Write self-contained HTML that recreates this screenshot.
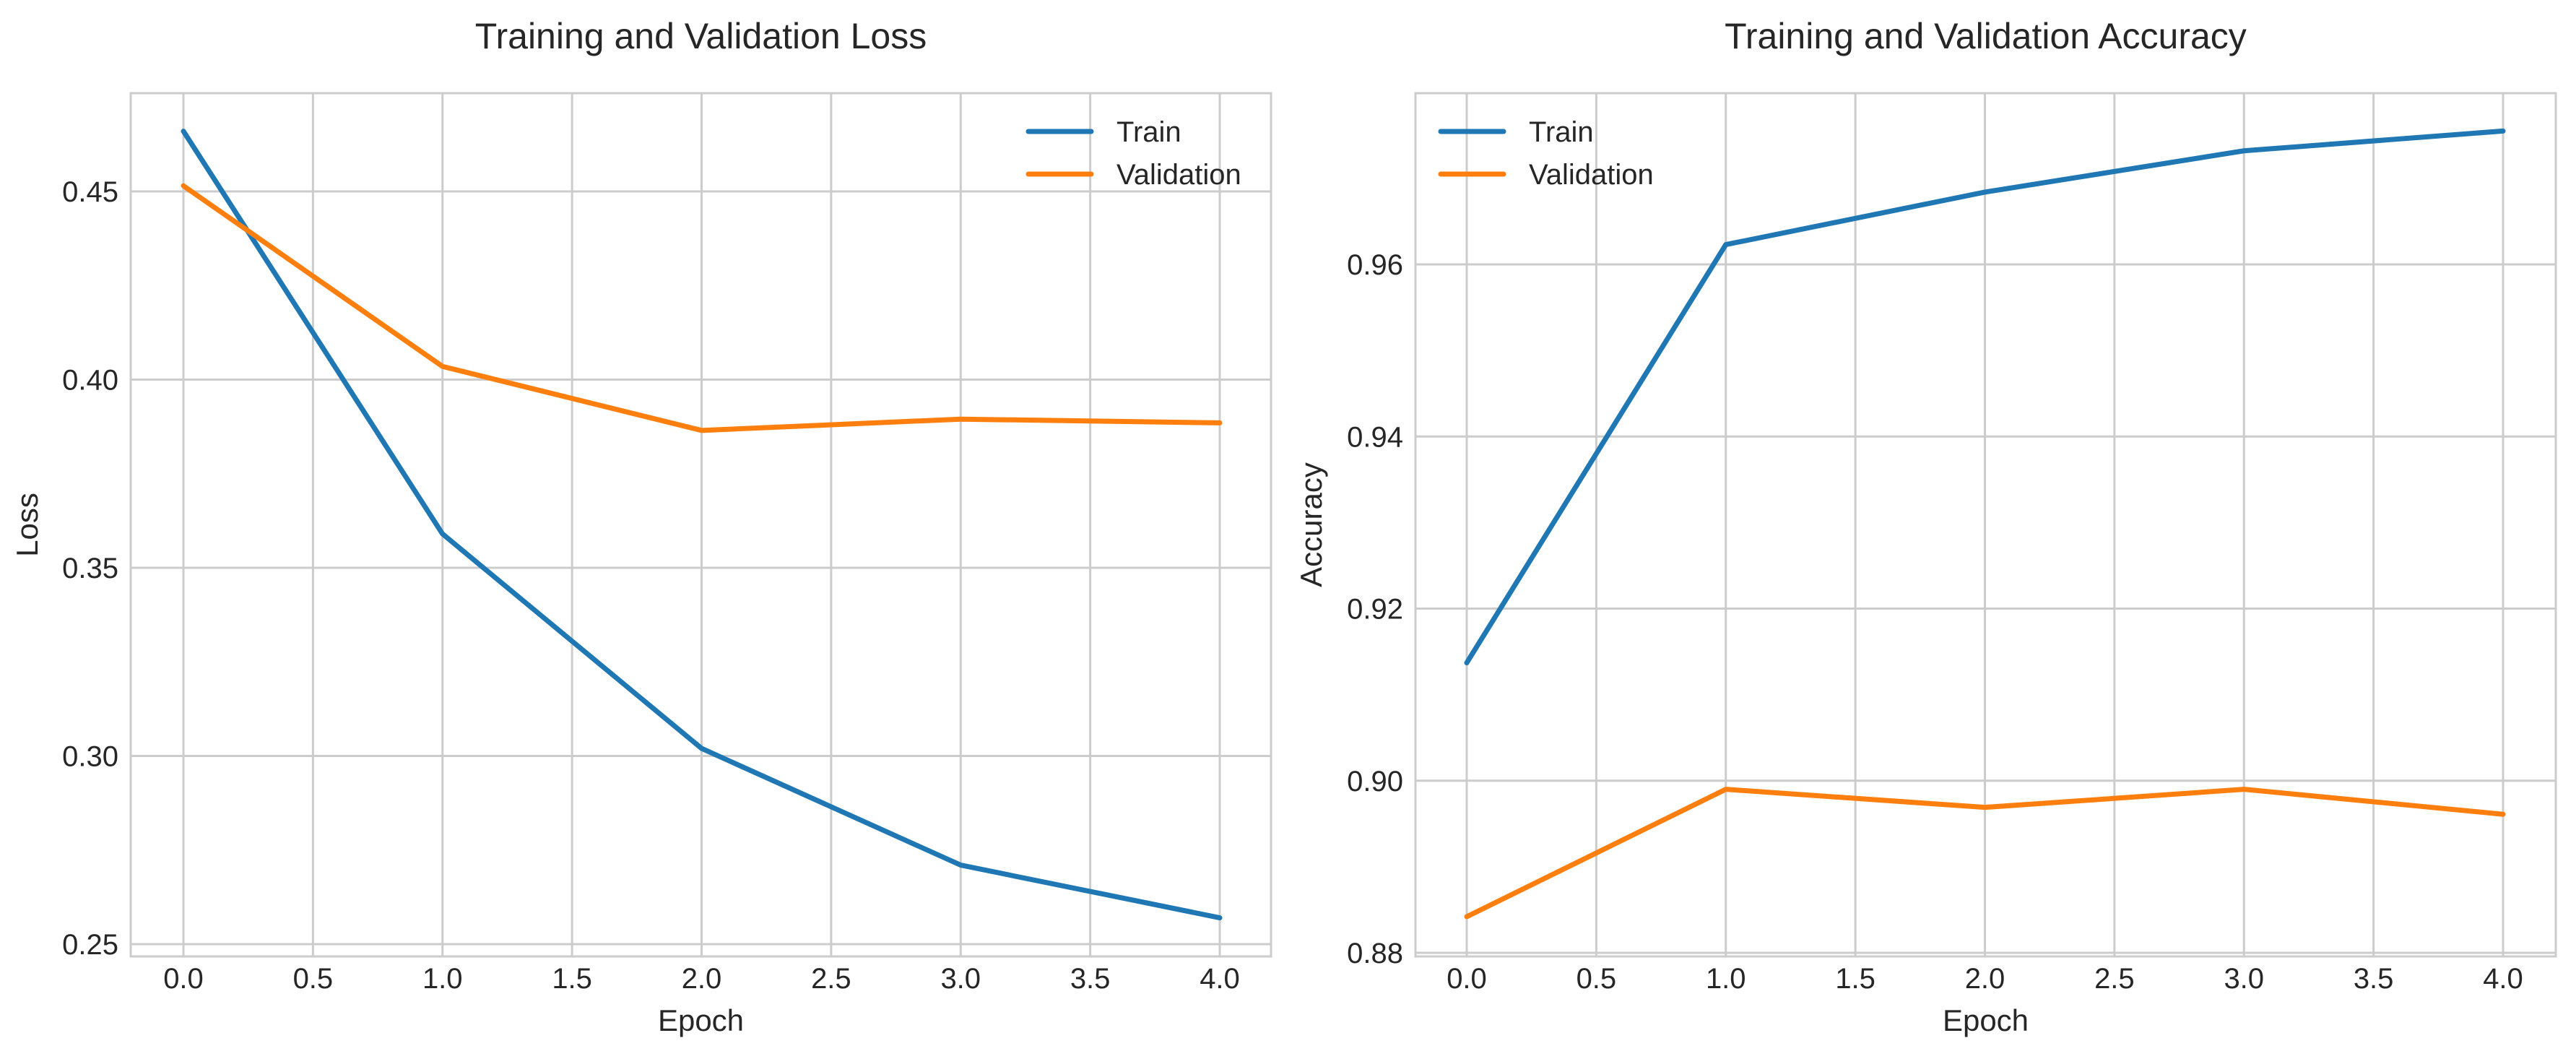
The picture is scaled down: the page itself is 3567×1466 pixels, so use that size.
<!DOCTYPE html>
<html><head><meta charset="utf-8"><style>
html,body{margin:0;padding:0;background:#fff;}
svg{display:block;font-family:"Liberation Sans",sans-serif;}
</style></head><body>
<svg id="chart" width="3567" height="1466" viewBox="0 0 3567 1466" xmlns="http://www.w3.org/2000/svg"></svg>
<script>
const epochs = [0, 1, 2, 3, 4];
const xTicks = [0, 0.5, 1, 1.5, 2, 2.5, 3, 3.5, 4];
const xTickLabels = ["0.0","0.5","1.0","1.5","2.0","2.5","3.0","3.5","4.0"];
const lossTrain = [0.466, 0.359, 0.302, 0.271, 0.257];
const lossVal = [0.4515, 0.4035, 0.3865, 0.3895, 0.3885];
const lossTicks = [0.25, 0.30, 0.35, 0.40, 0.45];
const lossTickLabels = ["0.25","0.30","0.35","0.40","0.45"];
const accTrain = [0.9137, 0.9623, 0.9684, 0.9732, 0.9755];
const accVal = [0.8842, 0.899, 0.8969, 0.899, 0.8961];
const accTicks = [0.88, 0.90, 0.92, 0.94, 0.96];
const accTickLabels = ["0.88","0.90","0.92","0.94","0.96"];

const svg = document.getElementById('chart');
const NS = 'http://www.w3.org/2000/svg';
function mk(tag, attrs, parent){const e=document.createElementNS(NS,tag);for(const k in attrs)e.setAttribute(k,attrs[k]);(parent||svg).appendChild(e);return e;}

function panel(opt){
  const g = mk('g',{});
  
  
  const L=opt.left,R=opt.right,T=129,B=1324;
  const x0=opt.x0, x1=opt.x0+1435;
  const xs = v => x0 + (v-0)/(4-0)*(x1-x0);
  const ys = v => opt.ypx0 + (v-opt.yv0)/(opt.yv1-opt.yv0)*(opt.ypx1-opt.ypx0);
  xTicks.forEach((t,i)=>{
    const l=mk('line',{x1:xs(t),x2:xs(t),y1:T,y2:B,stroke:'#cccccc','stroke-width':3},g);
    
    
    const tx=mk('text',{x:xs(t),y:1368,'font-size':40,'text-anchor':'middle',fill:'#262626'},g);
    tx.textContent=xTickLabels[i];
    
    
  });
  opt.ticks.forEach((t,i)=>{
    const l=mk('line',{x1:L,x2:R,y1:ys(t),y2:ys(t),stroke:'#cccccc','stroke-width':3},g);
    
    
    const tx=mk('text',{x:L-17,y:ys(t)+14,'font-size':40,'text-anchor':'end',fill:'#262626'},g);
    tx.textContent=opt.tickLabels[i];
    
    
  });
  const fr=mk('rect',{x:L,y:T,width:R-L,height:B-T,fill:'none',stroke:'#cccccc','stroke-width':3},g);
  
  
  [[opt.train,'#1f77b4','train-line'],[opt.val,'#ff7f0e','validation-line']].forEach(s=>{
    const p=mk('polyline',{points:epochs.map((e,i)=>xs(e)+','+ys(s[0][i])).join(' '),fill:'none',stroke:s[1],'stroke-width':7,'stroke-linecap':'round','stroke-linejoin':'round'},g);
    
    
  });
  const ti=mk('text',{x:(L+R)/2,y:67,'font-size':50,'text-anchor':'middle',fill:'#262626'},g);
  ti.textContent=opt.title;
  
  
  const xl=mk('text',{x:(L+R)/2,y:1427,'font-size':42,'text-anchor':'middle',fill:'#262626'},g);
  xl.textContent='Epoch';
  
  
  const yl=mk('text',{x:0,y:0,'font-size':42,'text-anchor':'middle',fill:'#262626',transform:'translate('+opt.ylx+','+((T+B)/2)+') rotate(-90)'},g);
  yl.textContent=opt.ylabel;
  
  
  [['Train','#1f77b4',182],['Validation','#ff7f0e',241]].forEach(e=>{
    const lg=mk('g',{},g);
    
    
    mk('line',{x1:opt.legX,x2:opt.legX+87,y1:e[2],y2:e[2],stroke:e[1],'stroke-width':7,'stroke-linecap':'round'},lg);
    const t=mk('text',{x:opt.legX+122,y:e[2]+14,'font-size':40,fill:'#262626'},lg);
    t.textContent=e[0];
  });
}
panel({name:'loss-chart',left:181,right:1760,x0:254,ypx0:1307,yv0:0.25,ypx1:265,yv1:0.45,ticks:lossTicks,tickLabels:lossTickLabels,train:lossTrain,val:lossVal,title:'Training and Validation Loss',ylabel:'Loss',ylx:52,legX:1424});
panel({name:'accuracy-chart',left:1960,right:3539,x0:2031,ypx0:1319,yv0:0.88,ypx1:366,yv1:0.96,ticks:accTicks,tickLabels:accTickLabels,train:accTrain,val:accVal,title:'Training and Validation Accuracy',ylabel:'Accuracy',ylx:1830,legX:1995});
</script>
</body></html>
